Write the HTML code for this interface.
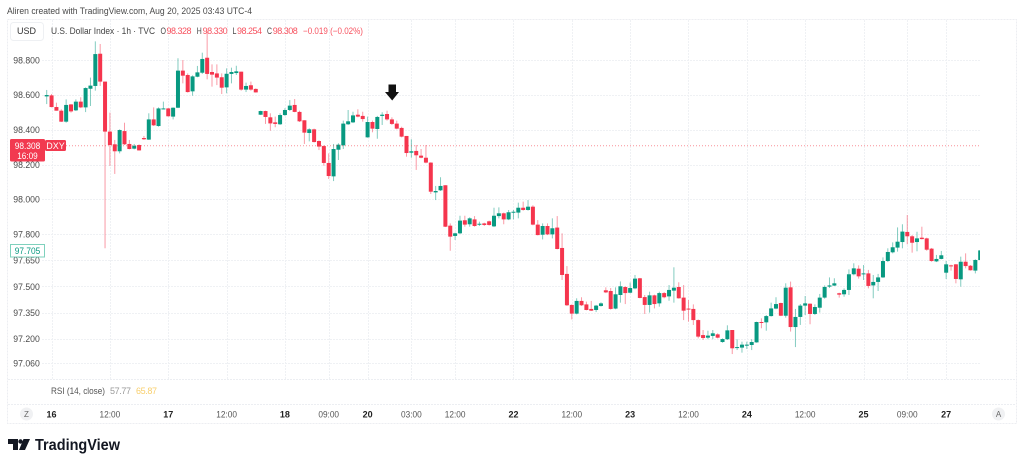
<!DOCTYPE html>
<html lang="en">
<head>
<meta charset="utf-8">
<title>U.S. Dollar Index 1h chart</title>
<style>
html,body{margin:0;padding:0;background:#fff;width:1024px;height:466px;overflow:hidden}
svg{display:block;font-family:"Liberation Sans",sans-serif;filter:blur(0.3px)}
</style>
</head>
<body>
<svg id="chart" width="1024" height="466" viewBox="0 0 1024 466" xmlns="http://www.w3.org/2000/svg">
  <defs><clipPath id="plot-clip"><rect x="8" y="20" width="972" height="359"/></clipPath></defs>
  <rect x="0" y="0" width="1024" height="466" fill="#ffffff"/>
  <text x="7" y="14" font-size="9" fill="#4a4a4a" textLength="245" lengthAdjust="spacingAndGlyphs">Aliren created with TradingView.com, Aug 20, 2025 03:43 UTC-4</text>
  <rect x="7.5" y="19.5" width="1009" height="404" fill="none" stroke="#eceef2" stroke-dasharray="2 1"/>
  <g id="grid"></g>
  <line x1="8" x2="1016" y1="379.5" y2="379.5" stroke="#eceef2" stroke-dasharray="2 1"/>
  <line x1="8" x2="1016" y1="404.5" y2="404.5" stroke="#eceef2" stroke-dasharray="2 1"/>
  <g id="candles" clip-path="url(#plot-clip)"></g>
  <line id="last-line" x2="980" stroke="#f23645" stroke-opacity="0.55" stroke-dasharray="1 2"/>
  <path d="M388.5 84.5H396V92H399L392.2 100.5L385 92H388.5Z" fill="#111111"/>
  <g id="price-axis"></g>
  <g>
    <rect x="10.5" y="22.5" width="33" height="18" rx="3" fill="#fff" stroke="#eef0f3"/>
    <text x="17" y="34" font-size="9" fill="#333" textLength="19">USD</text>
  </g>
  <g font-size="9">
    <text x="51" y="34" fill="#444" textLength="104" lengthAdjust="spacingAndGlyphs">U.S. Dollar Index · 1h · TVC</text>
    <text x="160.5" y="34" fill="#444" textLength="5.5" lengthAdjust="spacingAndGlyphs">O</text>
    <text x="166.5" y="34" fill="#f7525f" textLength="25">98.328</text>
    <text x="196.8" y="34" fill="#444" textLength="5" lengthAdjust="spacingAndGlyphs">H</text>
    <text x="202.6" y="34" fill="#f7525f" textLength="25">98.330</text>
    <text x="232.5" y="34" fill="#444" textLength="4" lengthAdjust="spacingAndGlyphs">L</text>
    <text x="237" y="34" fill="#f7525f" textLength="25">98.254</text>
    <text x="267" y="34" fill="#444" textLength="5" lengthAdjust="spacingAndGlyphs">C</text>
    <text x="272.8" y="34" fill="#f7525f" textLength="25">98.308</text>
    <text x="303" y="34" fill="#f7525f" textLength="60" lengthAdjust="spacingAndGlyphs">−0.019 (−0.02%)</text>
  </g>
  <g>
    <rect x="10" y="139" width="35" height="22.5" rx="1.5" fill="#f23a50"/>
    <text id="last-price-text" x="27.5" y="149" font-size="9" fill="#fff" text-anchor="middle" textLength="25.5" lengthAdjust="spacingAndGlyphs"></text>
    <text x="27.5" y="159" font-size="9" fill="#fff" text-anchor="middle" textLength="20.5" lengthAdjust="spacingAndGlyphs">16:09</text>
    <rect x="45" y="140" width="21" height="11" rx="1.5" fill="#f23a50"/>
    <text x="55.5" y="149" font-size="9" fill="#fff" text-anchor="middle">DXY</text>
  </g>
  <g>
    <rect x="10.5" y="244.5" width="34" height="12.5" fill="#fff" stroke="#7fd1bd"/>
    <text id="low-price-text" x="27.5" y="254" font-size="9" fill="#089981" text-anchor="middle" textLength="25.5" lengthAdjust="spacingAndGlyphs"></text>
  </g>
  <g font-size="9">
    <text x="51" y="394" fill="#555" textLength="54" lengthAdjust="spacingAndGlyphs">RSI (14, close)</text>
    <text x="110" y="394" fill="#9a9a9a" textLength="21">57.77</text>
    <text x="136" y="394" fill="#f8cf6d" textLength="21">65.87</text>
  </g>
  <g id="time-axis"></g>
  <circle cx="26.5" cy="414" r="6.5" fill="#f0f1f3"/>
  <text x="26.5" y="417" font-size="8" fill="#666" text-anchor="middle">Z</text>
  <circle cx="998.5" cy="414" r="6.5" fill="#f0f1f3"/>
  <text x="998.5" y="417" font-size="8" fill="#666" text-anchor="middle">A</text>
  <g>
    <path d="M8 439H18V450H13V444H8ZM23.5 439H30L25 450H19Z" fill="#131722"/>
    <circle cx="20.5" cy="441.5" r="2.2" fill="#131722"/>
    <text x="35" y="450" font-size="15.5" font-weight="bold" fill="#131722" textLength="85" lengthAdjust="spacingAndGlyphs">TradingView</text>
  </g>
</svg>
<script>
const opens = [
98.591,98.597,98.530,98.509,98.446,98.545,98.511,98.561,98.528,98.635,
98.651,98.836,98.676,98.389,98.316,98.276,98.392,98.318,98.291,98.312,
98.352,98.343,98.459,98.421,98.519,98.522,98.475,98.526,98.739,98.714,
98.620,98.704,98.727,98.813,98.731,98.723,98.701,98.643,98.720,98.725,
98.733,98.630,98.655,98.634,98.486,98.507,98.471,98.442,98.431,98.484,
98.513,98.542,98.502,98.454,98.381,98.402,98.335,98.306,98.209,98.132,
98.285,98.310,98.431,98.442,98.486,98.479,98.356,98.444,98.404,98.479,
98.490,98.459,98.435,98.410,98.364,98.268,98.278,98.251,98.239,98.211,
98.040,98.052,98.081,97.849,97.790,97.805,97.880,97.857,97.885,97.855,
97.862,97.874,97.845,97.904,97.920,97.885,97.926,97.924,97.952,97.939,
97.958,97.855,97.797,97.847,97.799,97.838,97.721,97.572,97.394,97.344,
97.417,97.397,97.371,97.365,97.388,97.478,97.474,97.373,97.451,97.497,
97.464,97.489,97.547,97.439,97.394,97.449,97.403,97.462,97.443,97.476,
97.497,97.436,97.373,97.371,97.307,97.221,97.206,97.216,97.225,97.181,
97.197,97.250,97.149,97.149,97.160,97.164,97.179,97.296,97.294,97.330,
97.373,97.405,97.332,97.495,97.267,97.325,97.390,97.401,97.342,97.378,
97.436,97.499,97.505,97.461,97.455,97.480,97.570,97.602,97.570,97.575,
97.506,97.526,97.552,97.646,97.696,97.723,97.755,97.813,97.788,97.755,
97.780,97.776,97.717,97.644,97.658,97.579,97.621,97.627,97.541,97.642,
97.619,97.591,97.652];
const highs = [
98.628,98.605,98.555,98.517,98.574,98.547,98.574,98.586,98.643,98.699,
98.907,98.892,98.676,98.498,98.341,98.402,98.440,98.341,98.318,98.316,
98.364,98.494,98.528,98.528,98.561,98.524,98.528,98.810,98.800,98.723,
98.712,98.766,98.842,98.963,98.775,98.775,98.723,98.752,98.756,98.767,
98.733,98.670,98.676,98.637,98.509,98.509,98.494,98.475,98.494,98.523,
98.570,98.576,98.509,98.454,98.408,98.406,98.339,98.310,98.264,98.318,
98.322,98.452,98.513,98.503,98.517,98.503,98.475,98.452,98.479,98.500,
98.509,98.471,98.452,98.417,98.364,98.345,98.312,98.289,98.312,98.213,
98.077,98.127,98.081,97.862,97.809,97.906,97.906,97.897,97.904,97.872,
97.866,97.878,97.952,97.954,97.924,97.939,97.939,97.981,97.987,97.996,
97.966,97.881,97.862,97.862,97.891,97.904,97.805,97.617,97.397,97.432,
97.438,97.413,97.417,97.394,97.409,97.495,97.491,97.495,97.529,97.501,
97.522,97.566,97.549,97.451,97.470,97.453,97.470,97.468,97.508,97.610,
97.524,97.508,97.422,97.397,97.311,97.250,97.246,97.250,97.231,97.202,
97.277,97.250,97.197,97.183,97.183,97.197,97.298,97.317,97.336,97.407,
97.438,97.407,97.518,97.528,97.371,97.399,97.445,97.403,97.397,97.457,
97.506,97.552,97.547,97.464,97.489,97.598,97.633,97.621,97.623,97.595,
97.566,97.572,97.667,97.719,97.753,97.839,97.857,97.910,97.795,97.814,
97.843,97.780,97.721,97.681,97.704,97.646,97.625,97.629,97.671,97.690,
97.623,97.656,97.709];
const lows = [
98.547,98.528,98.509,98.444,98.440,98.498,98.507,98.524,98.501,98.536,
98.624,98.651,97.719,98.192,98.146,98.264,98.312,98.287,98.287,98.280,
98.341,98.341,98.421,98.417,98.517,98.475,98.459,98.524,98.666,98.613,
98.595,98.701,98.720,98.689,98.647,98.656,98.605,98.609,98.666,98.714,
98.624,98.616,98.624,98.613,98.484,98.433,98.394,98.414,98.427,98.479,
98.507,98.500,98.444,98.318,98.333,98.327,98.283,98.193,98.117,98.105,
98.226,98.289,98.427,98.438,98.471,98.446,98.354,98.385,98.348,98.427,
98.452,98.427,98.402,98.356,98.245,98.239,98.169,98.236,98.207,98.031,
97.996,98.048,97.841,97.705,97.767,97.801,97.843,97.843,97.843,97.847,
97.847,97.849,97.841,97.891,97.857,97.881,97.885,97.891,97.935,97.935,
97.851,97.793,97.770,97.795,97.776,97.713,97.537,97.388,97.311,97.340,
97.388,97.363,97.359,97.353,97.384,97.462,97.367,97.369,97.407,97.399,
97.461,97.484,97.432,97.342,97.350,97.374,97.384,97.432,97.418,97.407,
97.430,97.307,97.298,97.279,97.202,97.193,97.197,97.197,97.202,97.177,
97.193,97.112,97.135,97.120,97.141,97.135,97.177,97.260,97.246,97.327,
97.369,97.330,97.321,97.241,97.152,97.279,97.336,97.283,97.336,97.350,
97.430,97.491,97.503,97.436,97.441,97.451,97.564,97.545,97.537,97.489,
97.432,97.474,97.549,97.640,97.690,97.700,97.719,97.742,97.694,97.702,
97.770,97.705,97.642,97.640,97.656,97.543,97.591,97.518,97.499,97.604,
97.591,97.575,97.652];
const closes = [
98.599,98.530,98.509,98.446,98.542,98.505,98.561,98.528,98.639,98.653,
98.834,98.676,98.389,98.312,98.276,98.398,98.316,98.289,98.308,98.281,
98.345,98.459,98.425,98.522,98.522,98.477,98.526,98.739,98.710,98.616,
98.706,98.729,98.806,98.720,98.716,98.699,98.641,98.721,98.731,98.735,
98.630,98.651,98.630,98.614,98.507,98.473,98.436,98.433,98.484,98.513,
98.538,98.502,98.448,98.383,98.402,98.329,98.303,98.209,98.134,98.289,
98.314,98.435,98.448,98.482,98.475,98.461,98.444,98.406,98.473,98.486,
98.459,98.433,98.406,98.360,98.266,98.276,98.253,98.239,98.211,98.044,
98.048,98.077,97.843,97.786,97.805,97.878,97.855,97.891,97.847,97.860,
97.853,97.853,97.906,97.920,97.885,97.926,97.929,97.952,97.939,97.958,
97.855,97.795,97.847,97.799,97.834,97.715,97.566,97.392,97.344,97.417,
97.392,97.365,97.361,97.390,97.403,97.466,97.371,97.455,97.501,97.462,
97.491,97.545,97.434,97.394,97.449,97.399,97.462,97.438,97.480,97.493,
97.432,97.361,97.369,97.307,97.212,97.204,97.218,97.231,97.206,97.198,
97.248,97.145,97.152,97.166,97.166,97.181,97.296,97.292,97.330,97.374,
97.399,97.332,97.493,97.267,97.325,97.390,97.403,97.342,97.382,97.436,
97.497,97.506,97.518,97.453,97.480,97.570,97.604,97.558,97.575,97.503,
97.526,97.552,97.646,97.698,97.725,97.757,97.815,97.788,97.751,97.776,
97.772,97.711,97.646,97.658,97.679,97.627,97.617,97.543,97.642,97.617,
97.593,97.652,97.707];
const priceTicks = [98.8,98.6,98.4,98.2,98.0,97.8,97.65,97.5,97.35,97.2,97.06];
const timeTickBars = [1,13,25,37,49,58,66,75,84,96,108,120,132,144,156,168,177,185];
const timeTickLabels = ["16","12:00","17","12:00","18","09:00","20","03:00","12:00","22","12:00","23","12:00","24","12:00","25","09:00","27"];
const timeTickBold = [1,0,1,0,1,0,1,0,0,1,0,1,0,1,0,1,0,1];
const lastPrice = 98.308;
const lowPrice = 97.705;

const NS = "http://www.w3.org/2000/svg";
const UP = "#089981";
const DOWN = "#f5354d";
function xScale(i){ return 46.7 + 4.862 * i; }
function yScale(p){ return 60 + (98.8 - p) * 174.2; }
function mk(tag, attrs, parent, text){
  const el = document.createElementNS(NS, tag);
  for (const k in attrs) el.setAttribute(k, attrs[k]);
  if (text !== undefined) el.textContent = text;
  parent.appendChild(el);
  return el;
}

const grid = document.getElementById("grid");
const priceAxis = document.getElementById("price-axis");
priceTicks.forEach(function(p){
  const y = Math.round(yScale(p)) + 0.5;
  const line = mk("line", {x1:42, x2:980, y1:y, y2:y, stroke:"#eff1f4", "stroke-dasharray":"2 1"}, grid);
  
  
  const label = mk("text", {x:13.3, y:yScale(p) + 3.3, "font-size":"9.6", fill:"#4a4a4a", textLength:"26.5", lengthAdjust:"spacingAndGlyphs"}, priceAxis, p.toFixed(3));
  
  
});

const timeAxis = document.getElementById("time-axis");
timeTickBars.forEach(function(b, k){
  const x = Math.round(xScale(b)) + 0.5;
  const line = mk("line", {x1:x, x2:x, y1:20, y2:379, stroke:"#eff1f4", "stroke-dasharray":"2 1"}, grid);
  
  
  const label = mk("text", {x:xScale(b), y:417.3, "font-size":"9", "text-anchor":"middle",
    fill: timeTickBold[k] ? "#222" : "#555", "font-weight": timeTickBold[k] ? "bold" : "normal"}, timeAxis, timeTickLabels[k]);
  if (!timeTickBold[k]) {
    label.setAttribute("textLength", "20.7");
    label.setAttribute("lengthAdjust", "spacingAndGlyphs");
  }
  
  
});

const candles = document.getElementById("candles");
opens.forEach(function(o, i){
  const c = closes[i];
  const col = c >= o ? UP : DOWN;
  const x = xScale(i);
  const wick = mk("line", {x1:x, x2:x, y1:yScale(highs[i]), y2:yScale(lows[i]), stroke:col, "stroke-opacity":"0.5", "stroke-width":"1"}, candles);
  
  
  const top = yScale(Math.max(o, c));
  const h = Math.max(1, yScale(Math.min(o, c)) - top);
  const body = mk("rect", {x:x - 2, y:top, width:4, height:h, fill:col}, candles);
  
  
});

const lastLine = document.getElementById("last-line");
lastLine.setAttribute("x1", 66);
lastLine.setAttribute("y1", yScale(lastPrice));
lastLine.setAttribute("y2", yScale(lastPrice));
document.getElementById("last-price-text").textContent = lastPrice.toFixed(3);
document.getElementById("low-price-text").textContent = lowPrice.toFixed(3);
</script>
</body>
</html>
